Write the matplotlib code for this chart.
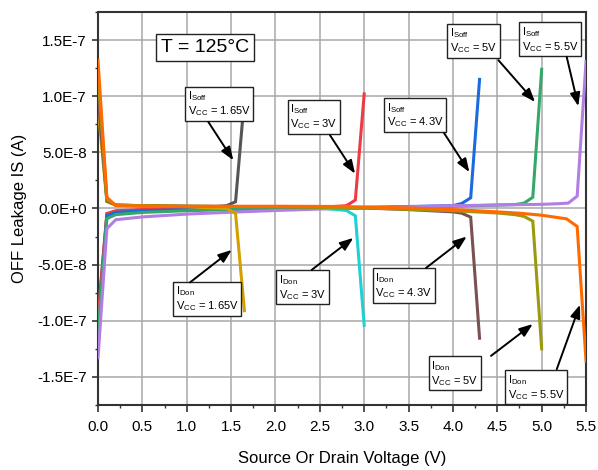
import numpy as np
import matplotlib
matplotlib.use('Agg')
import matplotlib.pyplot as plt
from matplotlib.ticker import MultipleLocator, FuncFormatter

plt.rcParams['font.family'] = ['Liberation Sans', 'DejaVu Sans']
plt.rcParams['mathtext.fontset'] = 'custom'
plt.rcParams['mathtext.rm'] = 'Liberation Sans'
plt.rcParams['mathtext.it'] = 'Liberation Sans'

# ISoff curves (source side), one per VCC
soff_165_x = [0, 0.1, 0.2, 0.5, 1.0, 1.45, 1.55, 1.65]
soff_165_y = [-0.95e-7, -5e-9, -2.5e-9, -1.5e-9, -0.5e-9, 2.5e-9, 6e-9, 9.8e-8]
soff_3_x = [0, 0.1, 0.2, 0.5, 1.0, 1.5, 2.0, 2.5, 2.8, 2.9, 3.0]
soff_3_y = [-1.0e-7, -4.5e-9, -2e-9, -1e-9, -0.5e-9, 0, 0.5e-9, 1e-9, 2.5e-9, 7.5e-9, 1.02e-7]
soff_43_x = [0, 0.1, 0.2, 0.5, 1.0, 1.5, 2.0, 3.0, 4.0, 4.1, 4.2, 4.3]
soff_43_y = [-1.2e-7, -6.5e-9, -3.5e-9, -2e-9, -1e-9, -0.5e-9, 0, 1e-9, 2.5e-9, 4.5e-9, 9.5e-9, 1.15e-7]
soff_5_x = [0, 0.1, 0.2, 0.5, 1.0, 1.5, 2.0, 3.0, 4.0, 4.7, 4.8, 4.9, 5.0]
soff_5_y = [-1.1e-7, -9e-9, -5.5e-9, -3.5e-9, -2e-9, -1e-9, -0.5e-9, 0.5e-9, 2e-9, 3.5e-9, 4.7e-9, 1.0e-8, 1.24e-7]
soff_55_x = [0, 0.1, 0.2, 0.5, 1.0, 1.5, 2.0, 2.5, 3.0, 4.0, 5.0, 5.2, 5.3, 5.4, 5.5]
soff_55_y = [-1.33e-7, -1.8e-8, -1.0e-8, -7.5e-9, -5e-9, -3.3e-9, -1.8e-9, -0.5e-9, 0.5e-9, 2.5e-9,
             3.7e-9, 4.3e-9, 4.8e-9, 1.1e-8, 1.31e-7]

# IDon curves (drain side), one per VCC
don_165_x = [0, 0.1, 0.2, 0.5, 1.0, 1.45, 1.55, 1.65]
don_165_y = [9e-8, 6e-9, 3e-9, 2.5e-9, 1.5e-9, 0, -4.5e-9, -9.1e-8]
don_3_x = [0, 0.1, 0.2, 0.5, 1.0, 2.0, 2.5, 2.8, 2.9, 3.0]
don_3_y = [1.12e-7, 7e-9, 3e-9, 2.5e-9, 2e-9, 1.5e-9, 0.5e-9, -1.8e-9, -6.5e-9, -1.04e-7]
don_43_x = [0, 0.1, 0.2, 0.5, 1.0, 2.0, 3.0, 3.5, 4.0, 4.1, 4.2, 4.3]
don_43_y = [1.0e-7, 7e-9, 3e-9, 2.5e-9, 2e-9, 1.5e-9, 0.5e-9, -1e-9, -3e-9, -4.2e-9, -7.7e-9, -1.155e-7]
don_5_x = [0, 0.1, 0.2, 0.5, 1.0, 2.0, 3.0, 4.0, 4.5, 4.7, 4.8, 4.9, 5.0]
don_5_y = [1.2e-7, 8e-9, 3e-9, 2.5e-9, 2e-9, 1.5e-9, 0.5e-9, -2e-9, -4e-9, -5.5e-9, -7e-9, -1.13e-8, -1.25e-7]
don_55_x = [0, 0.1, 0.2, 0.5, 1.0, 2.0, 2.7, 3.5, 4.0, 4.5, 4.75, 5.0, 5.28, 5.4, 5.5]
don_55_y = [1.32e-7, 1.0e-8, 2.5e-9, 2.2e-9, 2e-9, 2e-9, 1.8e-9, 0.5e-9, -0.9e-9, -3e-9, -4.2e-9,
            -6e-9, -9.2e-9, -1.6e-8, -1.36e-7]

curves = [
    (soff_165_x, soff_165_y, '#555555'),
    (soff_3_x, soff_3_y, '#ee3b43'),
    (soff_43_x, soff_43_y, '#1a6be0'),
    (soff_5_x, soff_5_y, '#35a868'),
    (soff_55_x, soff_55_y, '#b27ee4'),
    (don_165_x, don_165_y, '#d4a000'),
    (don_3_x, don_3_y, '#22cfd2'),
    (don_43_x, don_43_y, '#7a5050'),
    (don_5_x, don_5_y, '#9c9a0c'),
    (don_55_x, don_55_y, '#ff6a00'),
]

# annotation labels: (kind, vcc, box top-left, arrow tail, arrow tip)
notes = [
    ('Soff', '1.65V', (0.973, 1.078e-7), (1.243, 7.71e-8), (1.525, 4.29e-8)),
    ('Soff', '3V', (2.127, 9.64e-8), (2.615, 6.52e-8), (2.897, 3.10e-8)),
    ('Soff', '4.3V', (3.215, 9.79e-8), (3.900, 6.72e-8), (4.185, 3.24e-8)),
    ('Soff', '5V', (3.922, 1.640e-7), (4.512, 1.321e-7), (4.925, 9.49e-8)),
    ('Soff', '5.5V', (4.737, 1.654e-7), (5.282, 1.351e-7), (5.413, 9.11e-8)),
    ('Don', '1.65V', (0.837, -6.58e-8), (1.037, -6.58e-8), (1.507, -3.69e-8)),
    ('Don', '3V', (1.995, -5.54e-8), (2.408, -5.47e-8), (2.877, -2.62e-8)),
    ('Don', '4.3V', (3.085, -5.38e-8), (3.697, -5.29e-8), (4.155, -2.50e-8)),
    ('Don', '5V', (3.716, -1.321e-7), (4.429, -1.3125e-7), (4.899, -1.029e-7)),
    ('Don', '5.5V', (4.576, -1.446e-7), (5.170, -1.431e-7), (5.432, -8.57e-8)),
]


def sci_fmt(v, pos):
    if abs(v) < 1e-12:
        return '0.0E+0'
    e = int(np.floor(np.log10(abs(v))))
    m = v / 10 ** e
    return '%.1fE%d' % (m, e)


fig = plt.figure(figsize=(5.98, 4.70), dpi=100)
ax = fig.add_axes([0.1639, 0.1383, 0.8161, 0.8362])

for xs, ys, c in curves:
    ax.plot(xs, ys, color=c, lw=2.2, solid_joinstyle='miter', zorder=3)

ax.set_xlim(0, 5.5)
ax.set_ylim(-1.75e-7, 1.75e-7)
ax.xaxis.set_major_locator(MultipleLocator(0.5))
ax.xaxis.set_minor_locator(MultipleLocator(0.25))
ax.yaxis.set_major_locator(MultipleLocator(5e-8))
ax.yaxis.set_minor_locator(MultipleLocator(2.5e-8))
ax.yaxis.set_major_formatter(FuncFormatter(sci_fmt))
ax.xaxis.set_major_formatter(FuncFormatter(lambda v, p: '%.1f' % v))
ax.grid(True, which='major', color='#a8a8a8', lw=1.1, zorder=1)
ax.tick_params(which='major', direction='out', length=4, width=1.2, labelsize=11, color='#333333', pad=4)
ax.tick_params(axis='x', which='major', length=5, pad=6)
ax.tick_params(which='minor', direction='out', length=2.5, width=1.0, color='#333333')
for s in ax.spines.values():
    s.set_color('#333333')
    s.set_linewidth(1.5)

ax.set_xlabel('Source Or Drain Voltage (V)', fontsize=12, labelpad=12)
ax.set_ylabel('OFF Leakage IS (A)', fontsize=12, labelpad=7)

ax.text(1.206, 1.433e-7, 'T = 125°C', fontsize=14, ha='center', va='center', zorder=5,
        bbox=dict(boxstyle='square,pad=0.25', fc='white', ec='#222222', lw=1.0))

for kind, vcc, box, tail, tip in notes:
    label = r'$\mathregular{I_{%s}}$' % kind + '\n' + r'$\mathregular{V_{CC}}$ = ' + vcc
    ax.text(box[0] + 0.04, box[1] - 2.0e-9, label, fontsize=8, ha='left', va='top', zorder=5,
            linespacing=1.1,
            bbox=dict(boxstyle='square,pad=0.25', fc='white', ec='#222222', lw=1.0))
    ax.annotate('', xy=tip, xytext=tail, zorder=6,
                arrowprops=dict(arrowstyle='-|>,head_length=0.8,head_width=0.3', color='black', lw=1.4,
                                shrinkA=0, shrinkB=0))

plt.savefig('out.png', dpi=100)
